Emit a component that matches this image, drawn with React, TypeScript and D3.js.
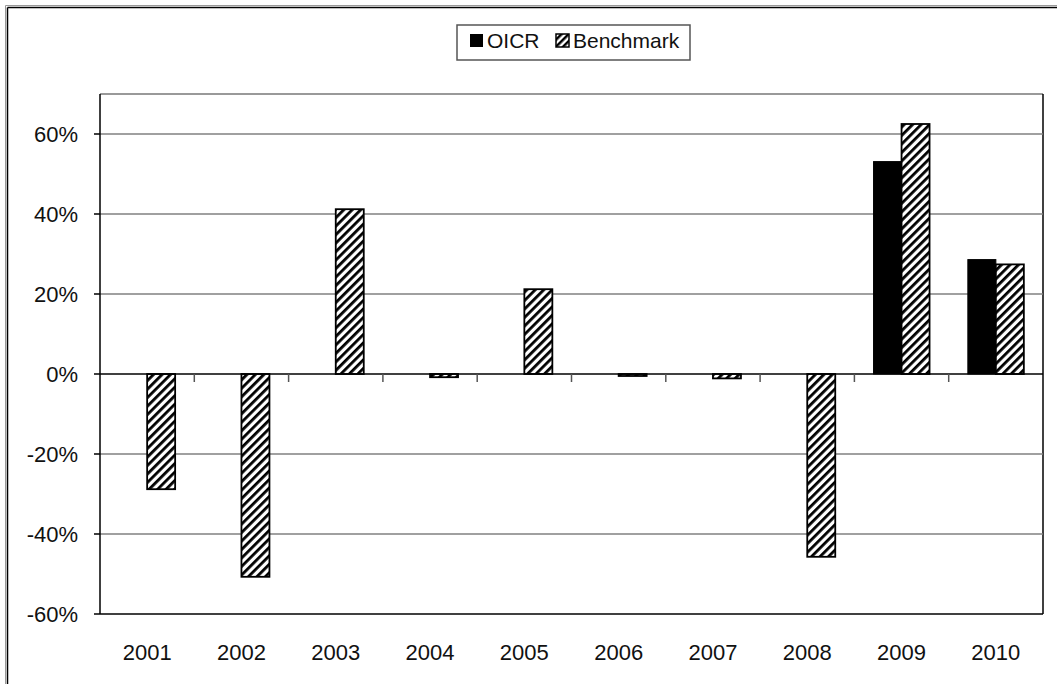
import React from "react";
import * as d3 from "d3";

const years = ["2001", "2002", "2003", "2004", "2005", "2006", "2007", "2008", "2009", "2010"];
const oicr: (number | null)[] = [null, null, null, null, null, null, null, null, 0.531, 0.286];
const benchmark: number[] = [-0.288, -0.507, 0.412, -0.008, 0.212, -0.005, -0.011, -0.457, 0.625, 0.274];
const yTicks = [-0.6, -0.4, -0.2, 0, 0.2, 0.4, 0.6];
const seriesNames = ["OICR", "Benchmark"];

const W = 1057;
const H = 684;
const L = 100, R = 1043, T = 94, B = 614;
const FONT = "'Liberation Sans', Arial, sans-serif";

export default function App() {
  const y = d3.scaleLinear().domain([-0.6, 0.7]).range([B, T]);
  const x = d3.scaleBand<string>().domain(years).range([L, R]).paddingInner(0).paddingOuter(0);
  const barW = 28;
  const fmt = (v: number) => d3.format(".0%")(v).replace("\u2212", "-");
  const y0 = y(0);

  return (
    <svg width={W} height={H} style={{ position: "absolute", left: 0, top: 0, background: "#fff" }}>
      <defs>
        <pattern id="hatch" patternUnits="userSpaceOnUse" width="6" height="6" patternTransform="rotate(45)">
          <rect width="6" height="6" fill="#fff" />
          <rect x="0" y="0" width="2.8" height="6" fill="#000" />
        </pattern>
        <pattern id="hatchS" patternUnits="userSpaceOnUse" width="5" height="5" patternTransform="rotate(45)">
          <rect width="5" height="5" fill="#fff" />
          <rect x="0" y="0" width="2.5" height="5" fill="#000" />
        </pattern>
      </defs>
      <rect x={0} y={0} width={W} height={H} fill="#fff" />
      {/* outer frame */}
      <line x1={5.5} y1={5.5} x2={W} y2={5.5} stroke="#999" strokeWidth={1} />
      <line x1={5.5} y1={5.5} x2={5.5} y2={H} stroke="#999" strokeWidth={1} />
      <line x1={7.5} y1={7.5} x2={W} y2={7.5} stroke="#000" strokeWidth={1.5} />
      <line x1={7.5} y1={7.5} x2={7.5} y2={H} stroke="#000" strokeWidth={1.5} />

      {/* plot border */}
      <line x1={L} y1={T} x2={R} y2={T} stroke="#777" strokeWidth={1.5} />
      <line x1={R} y1={T} x2={R} y2={B} stroke="#000" strokeWidth={1.5} />

      {/* gridlines */}
      {yTicks.filter((t) => t !== 0 && t !== -0.6).map((t) => (
        <line key={t} x1={L} x2={R} y1={y(t)} y2={y(t)} stroke="#808080" strokeWidth={1.5} />
      ))}
      <line x1={L} x2={R} y1={B} y2={B} stroke="#000" strokeWidth={1.5} />

      {/* bars */}
      {years.map((yr, i) => {
        const cx = (x(yr) as number) + x.bandwidth() / 2;
        const o = oicr[i];
        const b = benchmark[i];
        return (
          <g key={yr}>
            {o !== null && (
              <rect x={cx - barW} y={Math.min(y(o), y0)} width={barW} height={Math.abs(y(o) - y0)} fill="#000" stroke="#000" strokeWidth={1} />
            )}
            <rect x={cx} y={Math.min(y(b), y0)} width={barW} height={Math.abs(y(b) - y0)} fill="url(#hatch)" stroke="#000" strokeWidth={1.8} />
          </g>
        );
      })}

      {/* zero line and ticks */}
      <line x1={L} x2={R} y1={y0} y2={y0} stroke="#000" strokeWidth={1.5} />
      {years.slice(1).map((yr) => (
        <line key={yr} x1={x(yr) as number} x2={x(yr) as number} y1={y0} y2={y0 + 8} stroke="#555" strokeWidth={1.5} />
      ))}

      {/* y axis */}
      <line x1={L} x2={L} y1={T} y2={B} stroke="#000" strokeWidth={1.5} />
      {yTicks.map((t) => (
        <g key={t}>
          <line x1={L - 6} x2={L} y1={y(t)} y2={y(t)} stroke="#000" strokeWidth={1.5} />
          <text x={78} y={y(t)} dy="0.35em" textAnchor="end" fontFamily={FONT} fontSize={22} fill="#111">
            {fmt(t)}
          </text>
        </g>
      ))}

      {/* x labels */}
      {years.map((yr) => (
        <text key={yr} x={(x(yr) as number) + x.bandwidth() / 2} y={652} dy="0.35em" textAnchor="middle" fontFamily={FONT} fontSize={22} fill="#111">
          {yr}
        </text>
      ))}

      {/* legend */}
      <rect x={457} y={25} width={233} height={35} fill="#fff" stroke="#555" strokeWidth={1.5} />
      <rect x={470} y={34} width={13} height={13} fill="#000" />
      <text x={487} y={41} dy="0.35em" fontFamily={FONT} fontSize={21} fill="#111">{seriesNames[0]}</text>
      <rect x={556} y={34} width={13} height={13} fill="url(#hatchS)" stroke="#000" strokeWidth={1.5} />
      <text x={573} y={41} dy="0.35em" fontFamily={FONT} fontSize={21} fill="#111">{seriesNames[1]}</text>
    </svg>
  );
}
